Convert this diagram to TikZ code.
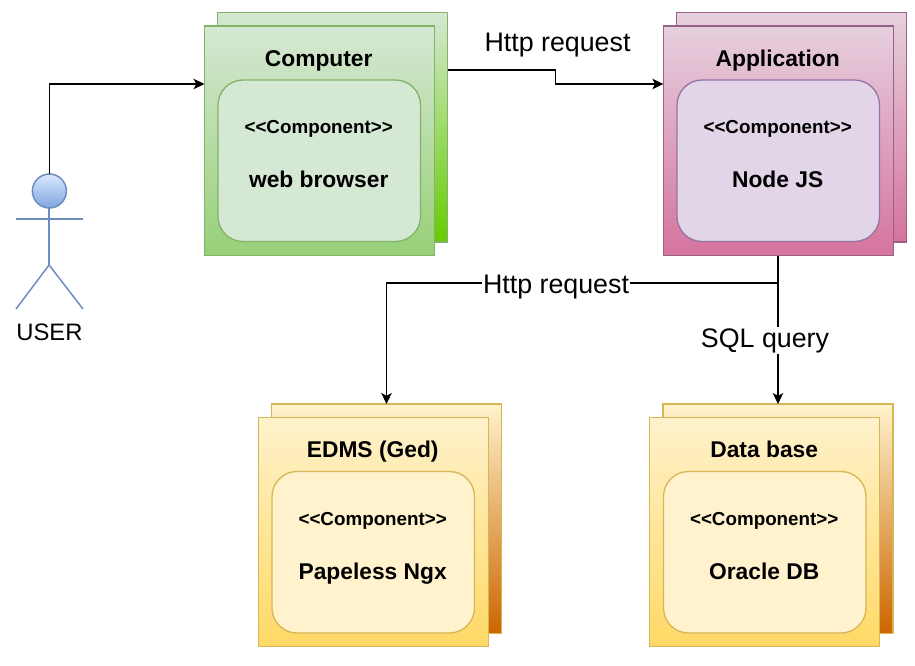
\documentclass[tikz,border=0pt]{standalone}
\usepackage{fontspec}
\setmainfont{Liberation Sans}
\usetikzlibrary{arrows.meta}
\definecolor{cgtop}{HTML}{D5E8D4}
\definecolor{cgbot}{HTML}{97D077}
\definecolor{cgback}{HTML}{66CC00}
\definecolor{cgline}{HTML}{82B366}
\definecolor{cptop}{HTML}{E6D0DE}
\definecolor{cpbot}{HTML}{D5739D}
\definecolor{cpline}{HTML}{996185}
\definecolor{cpifill}{HTML}{E1D5E7}
\definecolor{cpiline}{HTML}{9673A6}
\definecolor{cytop}{HTML}{FFF2CC}
\definecolor{cybot}{HTML}{FFD966}
\definecolor{cyback}{HTML}{CC6600}
\definecolor{cyline}{HTML}{D6B656}
\definecolor{cbline}{HTML}{6C8EBF}
\definecolor{cbtop}{HTML}{DAE8FC}
\definecolor{cbbot}{HTML}{7EA6E0}
\tikzset{
  panel/.style={draw,rectangle,line width=1.3pt,outer sep=0pt,inner sep=0pt,minimum width=230pt,minimum height=229.5pt,anchor=north west},
  inner/.style={draw,rectangle,rounded corners=25pt,line width=1.3pt,outer sep=0pt,inner sep=0pt,minimum width=202.5pt,minimum height=161.5pt,anchor=north west},
  gfront/.style={panel,draw=cgline,top color=cgtop,bottom color=cgbot},
  gback/.style={panel,draw=cgline,top color=cgtop,bottom color=cgback},
  pfront/.style={panel,draw=cpline,top color=cptop,bottom color=cpbot},
  yfront/.style={panel,draw=cyline,top color=cytop,bottom color=cybot},
  yback/.style={panel,draw=cyline,top color=cytop,bottom color=cyback},
  ginner/.style={inner,draw=cgline,fill=cgtop},
  pinner/.style={inner,draw=cpiline,fill=cpifill},
  yinner/.style={inner,draw=cyline,fill=cytop},
  title/.style={font=\fontsize{22.8}{26}\selectfont\bfseries,anchor=base,inner sep=0pt},
  stereo/.style={font=\fontsize{18.8}{22}\selectfont\bfseries,anchor=base,inner sep=0pt},
  lbl/.style={font=\fontsize{26.8}{30}\selectfont,anchor=base,inner sep=1pt},
  wire/.style={draw=black,line width=1.15pt},
  flow/.style={wire,-{Stealth[length=11pt,width=10.5pt,inset=2.8pt]}},
  actor/.style={draw=cbline,line width=1.7pt},
}
\begin{document}
\begin{tikzpicture}[x=1pt,y=-1pt]
\useasboundingbox (0,0) rectangle (915,665);

% Computer
\node[gback] (compback) at (217.7,12.5) {};
\node[gfront] (comp) at (204.5,26) {};
\node[ginner] (compin) at (218,80) {};
\node[title] (comptitle) at (318.7,66.5) {Computer};
\node[stereo] (compst) at (318.7,133.5) {<{}<Component>{}>};
\node[title] (compname) at (318.7,187.5) {web browser};

% Application
\node[pfront] (appback) at (676.7,12.5) {};
\node[pfront] (app) at (663.3,26) {};
\node[pinner] (appin) at (677,80) {};
\node[title] (apptitle) at (777.7,66.5) {Application};
\node[stereo] (appst) at (777.7,133.5) {<{}<Component>{}>};
\node[title] (appname) at (777.7,187.5) {Node JS};

% EDMS
\node[yback] (edmsback) at (271.7,404) {};
\node[yfront] (edms) at (258.3,417.3) {};
\node[yinner] (edmsin) at (272,471.5) {};
\node[title] (edmstitle) at (372.7,457.5) {EDMS (Ged)};
\node[stereo] (edmsst) at (372.7,525.2) {<{}<Component>{}>};
\node[title] (edmsname) at (372.7,579) {Papeless Ngx};

% Data base
\node[yback] (dbback) at (663,404) {};
\node[yfront] (db) at (649.7,417.3) {};
\node[yinner] (dbin) at (663.5,471.5) {};
\node[title] (dbtitle) at (764.2,457.5) {Data base};
\node[stereo] (dbst) at (764.2,525.2) {<{}<Component>{}>};
\node[title] (dbname) at (764.2,579) {Oracle DB};

% Actor
\node[circle,draw=cbline,line width=1.5pt,top color=cbtop,bottom color=cbbot,minimum size=34pt,inner sep=0pt,outer sep=0pt] (head) at (49.4,191) {};
\coordinate (armL) at (16,219.2);
\coordinate (armR) at (83,219.2);
\coordinate (hip) at (49.1,265);
\coordinate (neck) at (49.1,208);
\coordinate (legL) at (16,309);
\coordinate (legR) at (83,309);
\draw[actor] (neck) -- (hip);
\draw[actor] (armL) -- (armR);
\draw[actor,line width=1.5pt] (legL) -- (hip) -- (legR);
\node[font=\fontsize{23.8}{28}\selectfont,anchor=base,inner sep=0pt] (userlbl) at (49.4,340) {USER};

% Connectors
\coordinate (c1) at (49.4,84);
\coordinate (compIn) at (comp.west |- c1);
\draw[flow] (head.north) -- (c1) -- (compIn);
\coordinate (compOut) at (compback.east |- 0,70);
\coordinate (appIn) at (app.west |- 0,84);
\draw[flow] (compOut) -- (555.5,70) -- (555.5,84) -- (appIn);
\coordinate (appOut) at (778,255.5);
\coordinate (dbIn) at (778,404);
\coordinate (edmsIn) at (386.5,404);
\coordinate (split) at (778,283);
\draw[flow] (appOut) -- (dbIn);
\draw[flow] (split) -- (386.5,283) -- (edmsIn);

% Connector labels
\node[lbl] (l1) at (557.5,51) {Http request};
\node[lbl,fill=white] (l2) at (556,293) {Http request};
\node[lbl,fill=white] (l3) at (765,347) {SQL query};
\end{tikzpicture}
\end{document}
